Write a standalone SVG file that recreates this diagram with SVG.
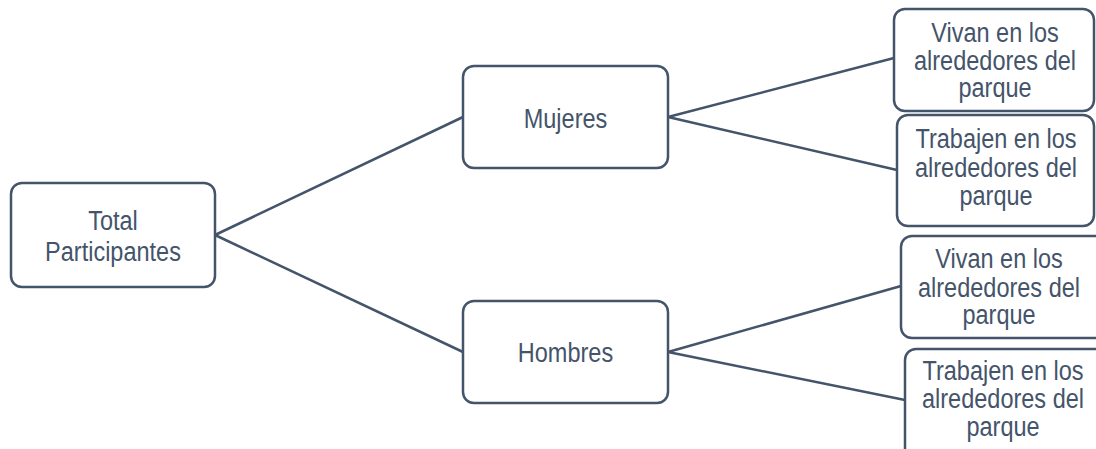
<svg xmlns="http://www.w3.org/2000/svg" width="1096" height="449" viewBox="0 0 1096 449">
<style>
.box{fill:#fff;stroke:#44546A;stroke-width:2.5}
.ln{stroke:#44546A;stroke-width:2.5;fill:none}
.t{font-family:"Liberation Sans",Arial,sans-serif;font-size:28px;fill:#44546A;text-anchor:middle}
</style>
<rect width="1096" height="449" fill="#fff"/>
<g id="connectors">
<line class="ln" x1="215" y1="235" x2="463" y2="117"/>
<line class="ln" x1="215" y1="235" x2="463" y2="352"/>
<line class="ln" x1="668" y1="117" x2="894" y2="58"/>
<line class="ln" x1="668" y1="117" x2="897" y2="170"/>
<line class="ln" x1="668" y1="352" x2="901" y2="286"/>
<line class="ln" x1="668" y1="352" x2="905" y2="400"/>
</g>
<g id="total">
<rect class="box" x="11" y="183" width="204" height="104" rx="11"/>
<g transform="translate(113 0) scale(0.84 1)"><text class="t" x="0" y="230">Total</text><text class="t" x="0" y="261">Participantes</text></g>
</g>
<g id="mujeres">
<rect class="box" x="463" y="66" width="205" height="102" rx="11"/>
<g transform="translate(565.5 0) scale(0.84 1)"><text class="t" x="0" y="128">Mujeres</text></g>
</g>
<g id="hombres">
<rect class="box" x="463" y="301" width="205" height="102" rx="11"/>
<g transform="translate(565.5 0) scale(0.84 1)"><text class="t" x="0" y="362">Hombres</text></g>
</g>
<g id="vivan1">
<rect class="box" x="894" y="9" width="200" height="102" rx="11"/>
<g transform="translate(995 0) scale(0.84 1)"><text class="t" x="0" y="42">Vivan en los</text><text class="t" x="0" y="70">alrededores del</text><text class="t" x="0" y="97">parque</text></g>
</g>
<g id="trabajen1">
<rect class="box" x="897" y="115" width="197" height="111" rx="11"/>
<g transform="translate(996 0) scale(0.84 1)"><text class="t" x="0" y="148">Trabajen en los</text><text class="t" x="0" y="177">alrededores del</text><text class="t" x="0" y="205">parque</text></g>
</g>
<g id="vivan2">
<rect class="box" x="901" y="236" width="205" height="102" rx="11"/>
<g transform="translate(999 0) scale(0.84 1)"><text class="t" x="0" y="268">Vivan en los</text><text class="t" x="0" y="297">alrededores del</text><text class="t" x="0" y="324">parque</text></g>
</g>
<g id="trabajen2">
<rect class="box" x="905" y="349" width="205" height="115" rx="11"/>
<g transform="translate(1003 0) scale(0.84 1)"><text class="t" x="0" y="380">Trabajen en los</text><text class="t" x="0" y="408">alrededores del</text><text class="t" x="0" y="436">parque</text></g>
</g>
</svg>
